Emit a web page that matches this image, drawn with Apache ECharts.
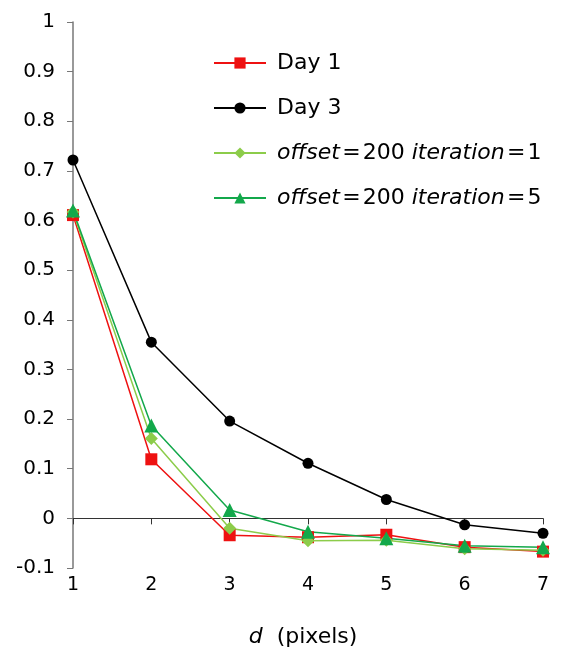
<!DOCTYPE html>
<html>
<head>
<meta charset="utf-8">
<script src="https://cdn.jsdelivr.net/npm/echarts@6/dist/echarts.min.js"></script>
<style>html,body{margin:0;padding:0;background:#fff;}#c{width:570px;height:655px;}</style>
</head>
<body>
<div id="c"></div>
<script>
const xValues = [1, 2, 3, 4, 5, 6, 7];
const day1 = [0.611, 0.119, -0.034, -0.038, -0.033, -0.058, -0.067];
const day3 = [0.722, 0.355, 0.196, 0.111, 0.038, -0.013, -0.030];
const iter1 = [0.617, 0.161, -0.020, -0.045, -0.044, -0.061, -0.064];
const iter5 = [0.620, 0.187, 0.017, -0.027, -0.040, -0.055, -0.058];
const seriesNames = ['Day 1', 'Day 3', 'offset = 200 iteration = 1', 'offset = 200 iteration = 5'];
const yMin = -0.1, yMax = 1, yStep = 0.1;

const font = 'DejaVu Sans, Liberation Sans, Arial, sans-serif';
function pts(arr){ return xValues.map((x,i)=>[x, arr[i]]); }
const hs = '\u200A';

const chart = echarts.init(document.getElementById('c'), null, {renderer:'canvas'});
chart.setOption({
  backgroundColor: '#fff',
  animation: false,
  grid: {left: 73, right: 27, top: 22, bottom: 87, containLabel: false},
  legend: {
    left: 213, top: 51, orient: 'vertical', padding: 0,
    itemWidth: 52, itemHeight: 14, itemGap: 21,
    textStyle: {fontFamily: font, fontSize: 22, color: '#000', lineHeight: 24, padding: [0,0,0,6],
      rich: {i: {fontStyle: 'italic', fontFamily: font, fontSize: 22, color: '#000'}}},
    formatter: function(name){
      if (name.indexOf('offset') === 0) {
        const parts = name.split(' ');
        return '{i|offset}' + hs + '=' + hs + '200 {i|iteration}' + hs + '=' + hs + parts[parts.length-1];
      }
      return name;
    },
    data: seriesNames
  },
  xAxis: [{
    type: 'value', min: 1, max: 7, interval: 1, position: 'bottom',
    axisLine: {show: false, onZero: false}, axisTick: {show: false}, splitLine: {show: false},
    axisLabel: {fontFamily: font, fontSize: 19, color: '#000', margin: 8},
    name: '{i|d}  (pixels)', nameLocation: 'middle', nameGap: 58,
    nameTextStyle: {fontFamily: font, fontSize: 22, color: '#000', padding: [0, 10, 0, 0],
      rich: {i: {fontStyle: 'italic', fontFamily: font, fontSize: 22, color: '#000'}}}
  }, {
    type: 'value', min: 1, max: 7, interval: 1, position: 'bottom',
    axisLine: {show: true, onZero: true, lineStyle: {color: '#333', width: 1}},
    axisTick: {show: true, inside: false, length: 6, lineStyle: {color: '#333'}},
    axisLabel: {show: false}, splitLine: {show: false}
  }],
  yAxis: {
    type: 'value', min: yMin, max: yMax, interval: yStep,
    axisLine: {show: true, onZero: false, lineStyle: {color: '#777', width: 1.5}},
    axisTick: {show: true, length: 6, lineStyle: {color: '#777'}},
    splitLine: {show: false},
    axisLabel: {fontFamily: font, fontSize: 20, color: '#000', margin: 18,
      formatter: v => (Math.round(v*10)/10).toString()}
  },
  series: [
    {name: seriesNames[0], type: 'line', data: pts(day1), symbol: 'rect', symbolSize: 12,
     itemStyle: {color: '#ee1111'}, lineStyle: {color: '#ee1111', width: 1.5}},
    {name: seriesNames[1], type: 'line', data: pts(day3), symbol: 'circle', symbolSize: 11,
     itemStyle: {color: '#000'}, lineStyle: {color: '#000', width: 1.5}},
    {name: seriesNames[2], type: 'line', data: pts(iter1), symbol: 'diamond', symbolSize: 13,
     itemStyle: {color: '#8ccc4a'}, lineStyle: {color: '#8ccc4a', width: 1.5}},
    {name: seriesNames[3], type: 'line', data: pts(iter5), symbol: 'triangle', symbolSize: 14,
     itemStyle: {color: '#13a84b'}, lineStyle: {color: '#13a84b', width: 1.5}}
  ]
});
</script>
</body>
</html>
